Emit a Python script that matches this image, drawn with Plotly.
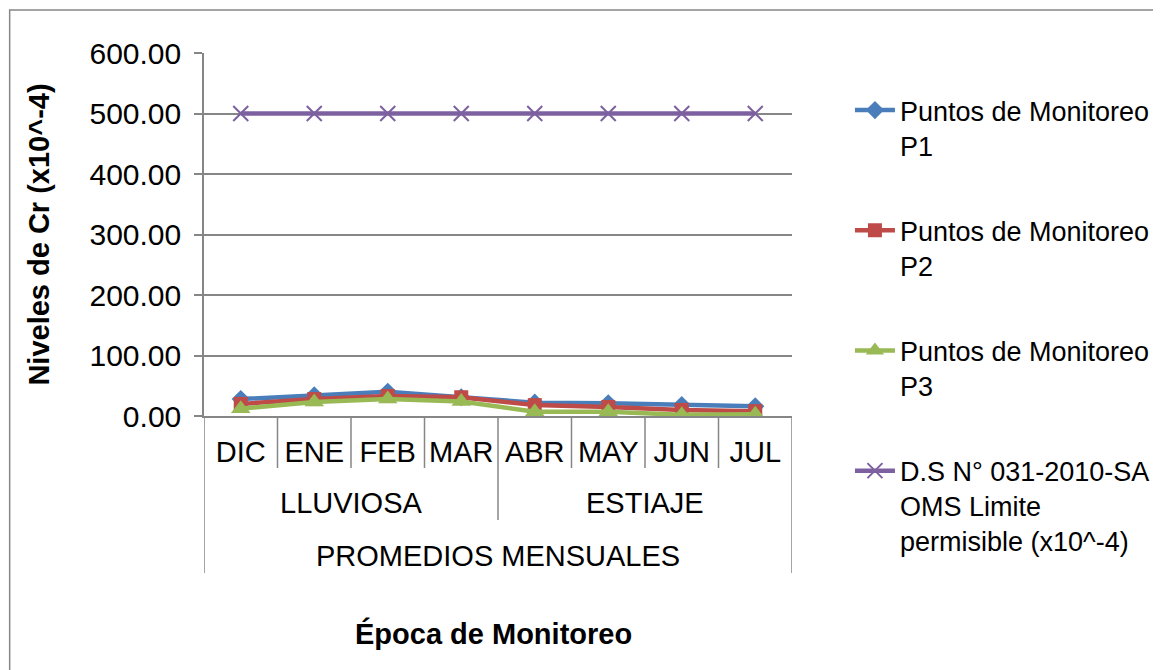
"""Niveles de Cr por punto de monitoreo."""

import plotly.graph_objects as go

months = ["DIC", "ENE", "FEB", "MAR", "ABR", "MAY", "JUN", "JUL"]
seasons = ["LLUVIOSA", "ESTIAJE"]
p1 = [28, 34, 40, 31, 22, 21, 18, 16]
p2 = [20, 28, 33, 31, 18, 15, 10, 8]
p3 = [12, 23, 28, 24, 7, 7, 2, 3]
limite = [500, 500, 500, 500, 500, 500, 500, 500]

W, H = 1161, 670
OFF = 8  # page body margin
# plot area in page pixels
L, R, T, B = 203.5, 792, 53, 416
GRAY = "#868686"
FONT = "Liberation Sans, Arial, sans-serif"

series = [
    ("Puntos de Monitoreo<br>P1", p1, "#4A7EBB", "diamond", 14, None),
    ("Puntos de Monitoreo<br>P2", p2, "#BE4B48", "square", 14, None),
    ("Puntos de Monitoreo<br>P3", p3, "#98B954", "triangle-up", 17, None),
    ("D.S N° 031-2010-SA<br>OMS Limite<br>permisible (x10^-4)", limite, "#7D60A0", "x-thin", 15, 2),
]

fig = go.Figure()
for i, (name, vals, color, sym, size, lw) in enumerate(series):
    marker = dict(symbol=sym, size=size, color=color)
    if lw:
        marker["line"] = dict(width=lw, color=color)
    fig.add_trace(go.Scatter(
        x=months, y=vals, name=name, mode="lines+markers",
        line=dict(color=color, width=4.5), marker=marker,
        legendgroup=str(i),
    ))

pw = R - L
ph = B - T


def px_x(x):
    return (x - L) / pw


def px_y(y):
    return (B - y) / ph


def vline(xc, y_bottom):
    return dict(type="line", xref="x", yref="paper", x0=xc, x1=xc,
                y0=0, y1=px_y(y_bottom), line=dict(color=GRAY, width=1.5))


n = len(months)
half = n // 2
shapes = [
    # chart border
    dict(type="rect", xref="paper", yref="paper",
         x0=px_x(9), x1=px_x(1175), y0=px_y(10), y1=px_y(690),
         line=dict(color=GRAY, width=1.5)),
]
# month separators, season separators, outer edges
shapes += [vline(k - 0.5, 468) for k in range(1, n) if k != half]
shapes += [vline(half - 0.5, 520)]
shapes += [vline(-0.5, 573), vline(n - 0.5, 573)]

annotations = [
    dict(text=s, xref="x", yref="paper", x=half * j + (half - 1) / 2,
         y=px_y(503), yanchor="middle", showarrow=False, font=dict(size=29))
    for j, s in enumerate(seasons)
]
annotations += [
    dict(text="PROMEDIOS MENSUALES", xref="paper", yref="paper",
         x=0.5, y=px_y(556), yanchor="middle", showarrow=False, font=dict(size=29)),
    dict(text="<b>Época de Monitoreo</b>", xref="paper", yref="paper",
         x=px_x(493), y=px_y(633), yanchor="middle", showarrow=False, font=dict(size=29)),
]

fig.update_layout(
    width=W, height=H,
    margin=dict(l=L - OFF, r=W - (R - OFF), t=T - OFF, b=H - (B - OFF)),
    paper_bgcolor="white", plot_bgcolor="white",
    font=dict(family=FONT, size=29, color="black"),
    showlegend=True,
    legend=dict(
        x=px_x(850), xanchor="left", y=px_y(86), yanchor="top",
        tracegroupgap=47, font=dict(size=27), valign="top",
        bgcolor="rgba(0,0,0,0)", itemwidth=40, maxheight=640,
    ),
    xaxis=dict(
        type="category", range=[-0.5, n - 0.5],
        showline=True, linecolor=GRAY, linewidth=1.5,
        ticks="", ticklabelstandoff=9,
        showgrid=False, tickfont=dict(size=29),
    ),
    yaxis=dict(
        range=[0, 600], dtick=100, tickformat=".2f",
        showgrid=True, gridcolor=GRAY, gridwidth=1.5,
        showline=True, linecolor=GRAY, linewidth=1.5, ticks="outside",
        ticklen=8, tickcolor=GRAY, tickwidth=1.5, zeroline=False,
        ticklabelstandoff=7, tickfont=dict(size=30),
        title=dict(text="<b>Niveles de Cr (x10^-4)</b>", font=dict(size=29), standoff=31),
    ),
    shapes=shapes,
    annotations=annotations,
)

fig.write_html("out.html")
